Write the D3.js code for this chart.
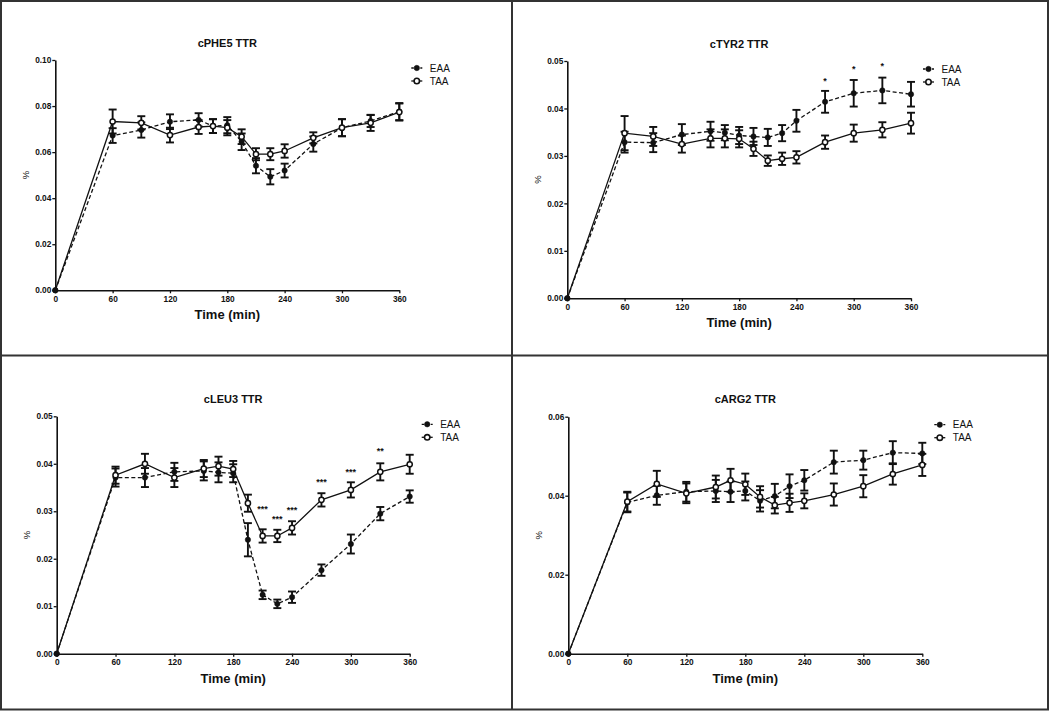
<!DOCTYPE html>
<html><head><meta charset="utf-8">
<script src="https://cdn.jsdelivr.net/npm/d3@7"></script>
<style>
body{margin:0;background:#fff}
svg{display:block}
text{font-family:"Liberation Sans",Arial,sans-serif;fill:#111}
</style>
</head><body><svg id="c" width="1050" height="711"></svg>
<script>
// ---------- data ----------
const times = [0,60,90,120,150,165,180,195,210,225,240,270,300,330,360];
const xTicks = [0,60,120,180,240,300,360];
const seriesNames = ["EAA","TAA"];

const pheEAA    = [0,0.0672,0.0696,0.0732,0.0740,0.0713,0.0717,0.0645,0.0541,0.0493,0.0520,0.0635,0.0706,0.0735,0.0776];
const pheEAAerr = [0,0.0032,0.0033,0.0032,0.0029,0.0030,0.0035,0.0036,0.0033,0.0033,0.0030,0.0033,0.0037,0.0026,0.0037];
const pheTAA    = [0,0.0733,0.0727,0.0674,0.0709,0.0713,0.0706,0.0667,0.0591,0.0591,0.0605,0.0662,0.0706,0.0727,0.0774];
const pheTAAerr = [0,0.0052,0.0029,0.0032,0.0030,0.0030,0.0033,0.0032,0.0026,0.0026,0.0029,0.0024,0.0037,0.0035,0.0037];
const pheYTicks = [0,0.02,0.04,0.06,0.08,0.10];

const tyrEAA    = [0,0.0329,0.0328,0.0345,0.0352,0.0349,0.0343,0.0341,0.0339,0.0348,0.0374,0.0414,0.0432,0.0438,0.0430];
const tyrEAAerr = [0,0.0022,0.0020,0.0022,0.0020,0.0016,0.0018,0.0018,0.0018,0.0017,0.0023,0.0023,0.0028,0.0027,0.0026];
const tyrTAA    = [0,0.0348,0.0341,0.0325,0.0337,0.0337,0.0336,0.0315,0.0290,0.0294,0.0297,0.0329,0.0348,0.0355,0.0369];
const tyrTAAerr = [0,0.0036,0.0020,0.0018,0.0019,0.0019,0.0018,0.0015,0.0011,0.0013,0.0013,0.0014,0.0018,0.0016,0.0022];
const tyrYTicks = [0,0.01,0.02,0.03,0.04,0.05];
const tyrStarT = [270,300,330];
const tyrStarY = [0.0462,0.0486,0.0492];
const tyrStarLabel = ["*","*","*"];

const leuEAA    = [0,0.0371,0.0371,0.0383,0.0385,0.0382,0.0380,0.0240,0.0124,0.0105,0.0119,0.0176,0.0231,0.0295,0.0331];
const leuEAAerr = [0,0.0019,0.0020,0.0019,0.0020,0.0021,0.0019,0.0035,0.0009,0.0009,0.0012,0.0012,0.0020,0.0014,0.0013];
const leuTAA    = [0,0.0376,0.0400,0.0371,0.0390,0.0395,0.0389,0.0317,0.0248,0.0248,0.0265,0.0324,0.0345,0.0383,0.0399];
const leuTAAerr = [0,0.0018,0.0021,0.0020,0.0018,0.0020,0.0017,0.0018,0.0014,0.0013,0.0014,0.0014,0.0016,0.0018,0.0020];
const leuYTicks = [0,0.01,0.02,0.03,0.04,0.05];
const leuStarT = [210,225,240,270,300,330];
const leuStarY = [0.0308,0.0287,0.0306,0.0364,0.0386,0.0430];
const leuStarLabel = ["***","***","***","***","***","**"];

const argEAA    = [0,0.0383,0.0401,0.0410,0.0412,0.0410,0.0412,0.0387,0.0399,0.0424,0.0439,0.0485,0.0490,0.0509,0.0507];
const argEAAerr = [0,0.0025,0.0024,0.0025,0.0028,0.0026,0.0024,0.0027,0.0031,0.0030,0.0026,0.0029,0.0024,0.0029,0.0027];
const argTAA    = [0,0.0385,0.0430,0.0406,0.0422,0.0439,0.0429,0.0397,0.0376,0.0382,0.0387,0.0403,0.0424,0.0455,0.0478];
const argTAAerr = [0,0.0025,0.0033,0.0025,0.0029,0.0029,0.0027,0.0027,0.0021,0.0023,0.0019,0.0028,0.0028,0.0027,0.0028];
const argYTicks = [0,0.02,0.04,0.06];

// ---------- layout ----------
const panels = [
  {title:"cPHE5 TTR", eaa:pheEAA, eaaErr:pheEAAerr, taa:pheTAA, taaErr:pheTAAerr, yTicks:pheYTicks,
   starT:[], starY:[], starL:[], box:{l:55.3, r:399.3, t:60, b:290.3}},
  {title:"cTYR2 TTR", eaa:tyrEAA, eaaErr:tyrEAAerr, taa:tyrTAA, taaErr:tyrTAAerr, yTicks:tyrYTicks,
   starT:tyrStarT, starY:tyrStarY, starL:tyrStarLabel, box:{l:567.3, r:911, t:61, b:298.3}},
  {title:"cLEU3 TTR", eaa:leuEAA, eaaErr:leuEAAerr, taa:leuTAA, taaErr:leuTAAerr, yTicks:leuYTicks,
   starT:leuStarT, starY:leuStarY, starL:leuStarLabel, box:{l:56.7, r:409.7, t:416.3, b:653.7}},
  {title:"cARG2 TTR", eaa:argEAA, eaaErr:argEAAerr, taa:argTAA, taaErr:argTAAerr, yTicks:argYTicks,
   starT:[], starY:[], starL:[], box:{l:568.3, r:922.3, t:416.7, b:653.7}}
];

const svg = d3.select("#c");
const ink = "#111";

// frame
svg.append("rect").attr("x",1).attr("y",1).attr("width",1047).attr("height",708.5)
  .attr("fill","none").attr("stroke","#333").attr("stroke-width",2);
svg.append("line").attr("x1",512).attr("x2",512).attr("y1",1).attr("y2",710)
  .attr("stroke","#333").attr("stroke-width",2);
svg.append("line").attr("x1",1).attr("x2",1048).attr("y1",355.5).attr("y2",355.5)
  .attr("stroke","#333").attr("stroke-width",2);

panels.forEach(p => {
  const b = p.box;
  const x = d3.scaleLinear().domain([0,360]).range([b.l,b.r]);
  const y = d3.scaleLinear().domain([0,d3.max(p.yTicks)]).range([b.b,b.t]);
  const g = svg.append("g");

  // axes
  const xa = g.append("g").attr("transform",`translate(0,${b.b})`)
    .call(d3.axisBottom(x).tickValues(xTicks).tickSize(3).tickSizeOuter(0).tickPadding(2.5).tickFormat(d3.format("d")));
  const ya = g.append("g").attr("transform",`translate(${b.l},0)`)
    .call(d3.axisLeft(y).tickValues(p.yTicks).tickSize(3).tickSizeOuter(0).tickPadding(1).tickFormat(d3.format(".2f")));
  [xa,ya].forEach(a=>{
    a.attr("font-family",null).attr("font-size",null);
    a.select(".domain").attr("stroke",ink).attr("stroke-width",1.6);
    a.selectAll(".tick line").attr("stroke",ink).attr("stroke-width",1.3);
    a.selectAll(".tick text").attr("fill",ink).style("font-size","8.3px").style("font-weight","bold");
  });

  // titles
  g.append("text").attr("x",(b.l+b.r)/2).attr("y",b.t-17.5).attr("text-anchor","middle")
    .attr("dominant-baseline","central").style("font-size","11px").style("font-weight","bold").text(p.title);
  g.append("text").attr("x",(b.l+b.r)/2).attr("y",b.b+24.5).attr("text-anchor","middle")
    .attr("dominant-baseline","central").style("font-size","13px").style("font-weight","bold").text("Time (min)");
  g.append("text").attr("transform",`translate(${b.l-30},${(b.t+b.b)/2}) rotate(-90)`)
    .attr("text-anchor","middle").attr("dominant-baseline","central").style("font-size","9.5px").text("%");

  const line = d3.line().x((d,i)=>x(times[i])).y(d=>y(d));
  const series = [
    {name:seriesNames[0], v:p.eaa, e:p.eaaErr, dash:"4,2.5", open:false},
    {name:seriesNames[1], v:p.taa, e:p.taaErr, dash:null, open:true}
  ];

  series.forEach(s=>{
    g.append("path").datum(s.v).attr("d",line).attr("fill","none").attr("stroke",ink)
      .attr("stroke-width",1.3).attr("stroke-dasharray",s.dash);
  });
  series.forEach(s=>{
    const eb = g.append("g").attr("stroke",ink).attr("stroke-width",1.9).attr("fill","none");
    s.v.forEach((v,i)=>{
      if(!s.e[i]) return;
      const cx = x(times[i]), y1 = y(v+s.e[i]), y2 = y(v-s.e[i]);
      eb.append("line").attr("x1",cx).attr("x2",cx).attr("y1",y1).attr("y2",y2);
      eb.append("line").attr("x1",cx-4).attr("x2",cx+4).attr("y1",y1).attr("y2",y1);
      eb.append("line").attr("x1",cx-4).attr("x2",cx+4).attr("y1",y2).attr("y2",y2);
    });
  });
  series.forEach(s=>{
    g.append("g").selectAll("circle").data(s.v).join("circle")
      .attr("cx",(d,i)=>x(times[i])).attr("cy",d=>y(d))
      .attr("r",(d,i)=> (s.open && i>0) ? 2.6 : 2.7)
      .attr("fill",(d,i)=> (s.open && i>0) ? "#fff" : ink)
      .attr("stroke",ink).attr("stroke-width",(d,i)=> (s.open && i>0) ? 1.5 : 0.5);
  });

  // significance marks
  p.starT.forEach((t,i)=>{
    g.append("text").attr("x",x(t)).attr("y",y(p.starY[i])+4.5).attr("text-anchor","middle")
      .style("font-size","9px").style("font-weight","bold").text(p.starL[i]);
  });

  // legend
  const lx = b.r+17.5, ly = b.t+8;
  series.forEach((s,k)=>{
    const yy = ly + k*13;
    g.append("line").attr("x1",lx-5.5).attr("x2",lx+5.5).attr("y1",yy).attr("y2",yy)
      .attr("stroke",ink).attr("stroke-width",1.3).attr("stroke-dasharray",s.dash?"2.5,2":null);
    g.append("circle").attr("cx",lx).attr("cy",yy).attr("r",s.open?2.7:2.7)
      .attr("fill",s.open?"#fff":ink).attr("stroke",ink).attr("stroke-width",s.open?1.6:0.5);
    g.append("text").attr("x",lx+13).attr("y",yy).attr("dominant-baseline","central")
      .style("font-size","10px").text(s.name);
  });
});
</script></body></html>
